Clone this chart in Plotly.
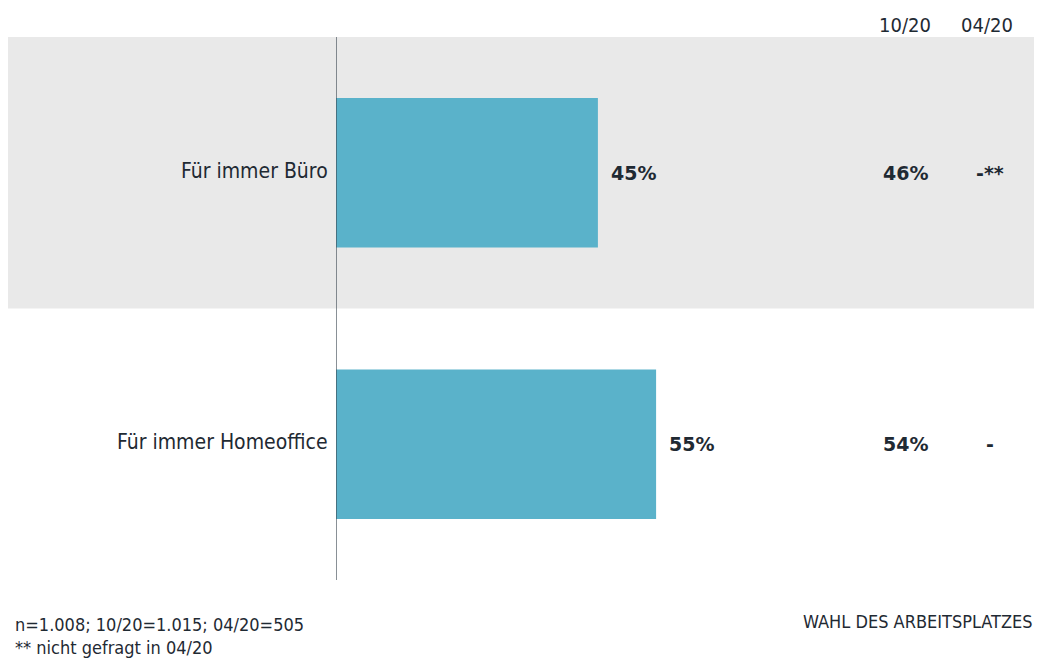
import plotly.graph_objects as go

categories = ["Für immer Büro", "Für immer Homeoffice"]
values = [45, 55]
col_headers = ["10/20", "04/20"]
col_1020 = ["46%", "54%"]
col_0420 = ["-**", "-"]
footnote_lines = ["n=1.008; 10/20=1.015; 04/20=505", "** nicht gefragt in 04/20"]
title_right = "WAHL DES ARBEITSPLATZES"

COND = "DejaVu Sans Condensed, Liberation Sans Narrow, Arial Narrow, sans-serif"
BOLD = "DejaVu Sans, sans-serif"
TXT = "#1f2a33"
BAR = "#5ab2ca"
GRAY = "#e9e9e9"

ypos = list(range(len(categories)))

fig = go.Figure()
fig.add_trace(go.Bar(
    x=values, y=ypos, orientation="h", width=0.55,
    marker=dict(color=BAR, line=dict(width=0)),
    hoverinfo="skip",
))

W, H = 1038, 670
L, R, T, B = 336, 4, 37, 90
pw = W - L - R

shapes = []
shapes.append(dict(type="rect", xref="paper", yref="y", x0=(8 - L) / pw, x1=(1034 - L) / pw,
                   y0=-0.5, y1=0.5, fillcolor=GRAY, line=dict(width=0), layer="below"))
shapes.append(dict(type="line", xref="x", yref="paper", x0=0, x1=0, y0=0, y1=1,
                   line=dict(color="#3a4650", width=1.2)))

ann = []
for i, (c, v) in enumerate(zip(categories, values)):
    ann.append(dict(x=0, y=i, xref="x", yref="y", text=c, showarrow=False, yshift=2,
                    xanchor="right", xshift=-6, font=dict(family=COND, size=21, color=TXT)))
    ann.append(dict(x=v, y=i, xref="x", yref="y", text=f"<b>{v}%</b>", showarrow=False,
                    xanchor="left", xshift=11, font=dict(family=BOLD, size=19, color=TXT)))
    ann.append(dict(x=(905 - L) / pw, y=i, xref="paper", yref="y", text=f"<b>{col_1020[i]}</b>",
                    showarrow=False, xanchor="center", font=dict(family=BOLD, size=19, color=TXT)))
    ann.append(dict(x=(990 - L) / pw, y=i, xref="paper", yref="y", text=f"<b>{col_0420[i]}</b>",
                    showarrow=False, xanchor="center", font=dict(family=BOLD, size=19, color=TXT)))

for h, xc in zip(col_headers, [905, 987]):
    ann.append(dict(x=(xc - L) / pw, y=1, xref="paper", yref="paper",
                    text=h, showarrow=False, xanchor="center", yanchor="bottom", yshift=-2,
                    font=dict(family=COND, size=20, color=TXT)))

ann.append(dict(x=(13 - L) / pw, y=0, xref="paper", yref="paper", text="<br>".join(footnote_lines),
                showarrow=False, xanchor="left", yanchor="top", yshift=-32, align="left",
                font=dict(family=COND, size=18, color=TXT)))
ann.append(dict(x=(1035 - L) / pw, y=0, xref="paper", yref="paper", text=title_right,
                showarrow=False, xanchor="right", yanchor="top", yshift=-29,
                font=dict(family=COND, size=18, color=TXT)))

fig.update_layout(
    width=W, height=H,
    margin=dict(l=L, r=R, t=T, b=B),
    paper_bgcolor="white", plot_bgcolor="rgba(0,0,0,0)",
    showlegend=False,
    xaxis=dict(range=[0, pw / 5.82], visible=False, fixedrange=True),
    yaxis=dict(range=[1.5, -0.5], visible=False, fixedrange=True),
    shapes=shapes, annotations=ann,
)

fig.write_html("out.html", config={"displayModeBar": False})
